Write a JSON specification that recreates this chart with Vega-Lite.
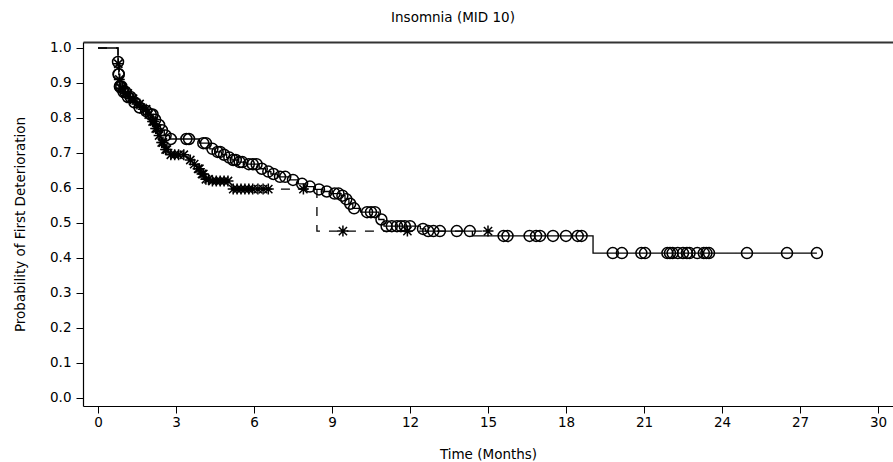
{
  "$schema": "https://vega.github.io/schema/vega-lite/v6.json",
  "width": 810,
  "height": 364,
  "autosize": {"type": "none"},
  "padding": {"left": 83, "top": 42, "right": 0, "bottom": 56},
  "background": "white",
  "config": {
    "view": {"stroke": null},
    "font": "DejaVu Sans",
    "axis": {"grid": false, "domainColor": "#000", "tickColor": "#000", "labelColor": "#000", "titleColor": "#000", "labelFont": "DejaVu Sans", "titleFont": "DejaVu Sans", "labelFontSize": 13.5, "titleFontSize": 13.5, "titleFontWeight": "normal", "tickSize": 7, "domainWidth": 1.2, "tickWidth": 1}
  },
  "title": {"text": "Insomnia (MID 10)", "fontSize": 13.5, "fontWeight": "normal", "font": "DejaVu Sans", "color": "#000", "anchor": "middle", "dx": -35, "offset": 16},
  "datasets": {
    "curves": [
      {"group": "A", "t": 0, "s": 1.0},
      {"group": "A", "t": 0.77, "s": 0.96},
      {"group": "A", "t": 0.8, "s": 0.925},
      {"group": "A", "t": 0.84, "s": 0.89},
      {"group": "A", "t": 0.95, "s": 0.875},
      {"group": "A", "t": 1.1, "s": 0.86},
      {"group": "A", "t": 1.3, "s": 0.845},
      {"group": "A", "t": 1.5, "s": 0.83},
      {"group": "A", "t": 1.75, "s": 0.82},
      {"group": "A", "t": 2.0, "s": 0.81},
      {"group": "A", "t": 2.12, "s": 0.795},
      {"group": "A", "t": 2.25, "s": 0.78},
      {"group": "A", "t": 2.4, "s": 0.765},
      {"group": "A", "t": 2.55, "s": 0.75},
      {"group": "A", "t": 2.75, "s": 0.74},
      {"group": "A", "t": 3.9, "s": 0.728},
      {"group": "A", "t": 4.3, "s": 0.712},
      {"group": "A", "t": 4.5, "s": 0.703},
      {"group": "A", "t": 4.75, "s": 0.695},
      {"group": "A", "t": 4.95, "s": 0.687},
      {"group": "A", "t": 5.15, "s": 0.68},
      {"group": "A", "t": 5.4, "s": 0.674},
      {"group": "A", "t": 5.7, "s": 0.668},
      {"group": "A", "t": 6.2, "s": 0.655},
      {"group": "A", "t": 6.45, "s": 0.647},
      {"group": "A", "t": 6.65, "s": 0.64},
      {"group": "A", "t": 6.9, "s": 0.632},
      {"group": "A", "t": 7.4, "s": 0.623},
      {"group": "A", "t": 7.7, "s": 0.612},
      {"group": "A", "t": 8.0, "s": 0.604},
      {"group": "A", "t": 8.35, "s": 0.596},
      {"group": "A", "t": 8.65, "s": 0.59},
      {"group": "A", "t": 8.95, "s": 0.584},
      {"group": "A", "t": 9.35, "s": 0.578},
      {"group": "A", "t": 9.5, "s": 0.568},
      {"group": "A", "t": 9.65, "s": 0.555},
      {"group": "A", "t": 9.8, "s": 0.542},
      {"group": "A", "t": 10.1, "s": 0.531},
      {"group": "A", "t": 10.8, "s": 0.51},
      {"group": "A", "t": 11.0, "s": 0.491},
      {"group": "A", "t": 12.4, "s": 0.483},
      {"group": "A", "t": 12.6, "s": 0.477},
      {"group": "A", "t": 14.4, "s": 0.463},
      {"group": "A", "t": 19.04, "s": 0.414},
      {"group": "A", "t": 27.65, "s": 0.414},
      {"group": "B", "t": 0, "s": 1.0},
      {"group": "B", "t": 0.77, "s": 0.955},
      {"group": "B", "t": 0.82, "s": 0.91},
      {"group": "B", "t": 0.88, "s": 0.885},
      {"group": "B", "t": 1.0, "s": 0.87},
      {"group": "B", "t": 1.2, "s": 0.855},
      {"group": "B", "t": 1.45, "s": 0.84},
      {"group": "B", "t": 1.7, "s": 0.825},
      {"group": "B", "t": 1.9, "s": 0.81},
      {"group": "B", "t": 2.05, "s": 0.79},
      {"group": "B", "t": 2.18, "s": 0.77},
      {"group": "B", "t": 2.3, "s": 0.75},
      {"group": "B", "t": 2.42, "s": 0.73},
      {"group": "B", "t": 2.55, "s": 0.71},
      {"group": "B", "t": 2.7, "s": 0.695},
      {"group": "B", "t": 3.5, "s": 0.68},
      {"group": "B", "t": 3.65, "s": 0.668},
      {"group": "B", "t": 3.8, "s": 0.655},
      {"group": "B", "t": 3.95, "s": 0.64},
      {"group": "B", "t": 4.1, "s": 0.625},
      {"group": "B", "t": 4.3, "s": 0.62},
      {"group": "B", "t": 5.15, "s": 0.597},
      {"group": "B", "t": 8.42, "s": 0.477},
      {"group": "B", "t": 15.0, "s": 0.477}
    ],
    "censor": [
      {"group": "A", "t": 0.77, "s": 0.96},
      {"group": "A", "t": 0.79, "s": 0.925},
      {"group": "A", "t": 0.8, "s": 0.925},
      {"group": "A", "t": 0.84, "s": 0.89},
      {"group": "A", "t": 0.86, "s": 0.89},
      {"group": "A", "t": 0.9, "s": 0.89},
      {"group": "A", "t": 0.98, "s": 0.875},
      {"group": "A", "t": 1.05, "s": 0.875},
      {"group": "A", "t": 1.15, "s": 0.86},
      {"group": "A", "t": 1.25, "s": 0.86},
      {"group": "A", "t": 1.4, "s": 0.845},
      {"group": "A", "t": 1.6, "s": 0.83},
      {"group": "A", "t": 1.85, "s": 0.82},
      {"group": "A", "t": 2.03, "s": 0.81},
      {"group": "A", "t": 2.1, "s": 0.81},
      {"group": "A", "t": 2.2, "s": 0.795},
      {"group": "A", "t": 2.35, "s": 0.78},
      {"group": "A", "t": 2.46, "s": 0.765},
      {"group": "A", "t": 2.6, "s": 0.75},
      {"group": "A", "t": 2.8, "s": 0.74},
      {"group": "A", "t": 3.4, "s": 0.74},
      {"group": "A", "t": 3.5, "s": 0.74},
      {"group": "A", "t": 4.05, "s": 0.728},
      {"group": "A", "t": 4.15, "s": 0.728},
      {"group": "A", "t": 4.4, "s": 0.712},
      {"group": "A", "t": 4.6, "s": 0.703},
      {"group": "A", "t": 4.7, "s": 0.703},
      {"group": "A", "t": 4.85, "s": 0.695},
      {"group": "A", "t": 5.05, "s": 0.687},
      {"group": "A", "t": 5.2, "s": 0.68},
      {"group": "A", "t": 5.3, "s": 0.68},
      {"group": "A", "t": 5.45, "s": 0.674},
      {"group": "A", "t": 5.55, "s": 0.674},
      {"group": "A", "t": 5.8, "s": 0.668},
      {"group": "A", "t": 5.95, "s": 0.668},
      {"group": "A", "t": 6.1, "s": 0.668},
      {"group": "A", "t": 6.3, "s": 0.655},
      {"group": "A", "t": 6.55, "s": 0.647},
      {"group": "A", "t": 6.75, "s": 0.64},
      {"group": "A", "t": 7.0, "s": 0.632},
      {"group": "A", "t": 7.2, "s": 0.632},
      {"group": "A", "t": 7.5, "s": 0.623},
      {"group": "A", "t": 7.85, "s": 0.612},
      {"group": "A", "t": 8.15, "s": 0.604},
      {"group": "A", "t": 8.5, "s": 0.596},
      {"group": "A", "t": 8.8, "s": 0.59},
      {"group": "A", "t": 9.1, "s": 0.584},
      {"group": "A", "t": 9.25, "s": 0.584},
      {"group": "A", "t": 9.4, "s": 0.578},
      {"group": "A", "t": 9.55, "s": 0.568},
      {"group": "A", "t": 9.7, "s": 0.555},
      {"group": "A", "t": 9.85, "s": 0.542},
      {"group": "A", "t": 10.35, "s": 0.531},
      {"group": "A", "t": 10.5, "s": 0.531},
      {"group": "A", "t": 10.65, "s": 0.531},
      {"group": "A", "t": 10.9, "s": 0.51},
      {"group": "A", "t": 11.1, "s": 0.491},
      {"group": "A", "t": 11.3, "s": 0.491},
      {"group": "A", "t": 11.5, "s": 0.491},
      {"group": "A", "t": 11.65, "s": 0.491},
      {"group": "A", "t": 11.8, "s": 0.491},
      {"group": "A", "t": 12.0, "s": 0.491},
      {"group": "A", "t": 12.5, "s": 0.483},
      {"group": "A", "t": 12.7, "s": 0.477},
      {"group": "A", "t": 12.9, "s": 0.477},
      {"group": "A", "t": 13.15, "s": 0.477},
      {"group": "A", "t": 13.8, "s": 0.477},
      {"group": "A", "t": 14.3, "s": 0.477},
      {"group": "A", "t": 15.6, "s": 0.463},
      {"group": "A", "t": 15.75, "s": 0.463},
      {"group": "A", "t": 16.6, "s": 0.463},
      {"group": "A", "t": 16.85, "s": 0.463},
      {"group": "A", "t": 17.0, "s": 0.463},
      {"group": "A", "t": 17.5, "s": 0.463},
      {"group": "A", "t": 18.0, "s": 0.463},
      {"group": "A", "t": 18.45, "s": 0.463},
      {"group": "A", "t": 18.6, "s": 0.463},
      {"group": "A", "t": 19.8, "s": 0.414},
      {"group": "A", "t": 20.15, "s": 0.414},
      {"group": "A", "t": 20.9, "s": 0.414},
      {"group": "A", "t": 21.04, "s": 0.414},
      {"group": "A", "t": 21.9, "s": 0.414},
      {"group": "A", "t": 22.0, "s": 0.414},
      {"group": "A", "t": 22.1, "s": 0.414},
      {"group": "A", "t": 22.3, "s": 0.414},
      {"group": "A", "t": 22.5, "s": 0.414},
      {"group": "A", "t": 22.65, "s": 0.414},
      {"group": "A", "t": 22.75, "s": 0.414},
      {"group": "A", "t": 23.05, "s": 0.414},
      {"group": "A", "t": 23.3, "s": 0.414},
      {"group": "A", "t": 23.4, "s": 0.414},
      {"group": "A", "t": 23.5, "s": 0.414},
      {"group": "A", "t": 24.96, "s": 0.414},
      {"group": "A", "t": 26.5, "s": 0.414},
      {"group": "A", "t": 27.65, "s": 0.414},
      {"group": "B", "t": 0.78, "s": 0.955},
      {"group": "B", "t": 0.82, "s": 0.91},
      {"group": "B", "t": 0.88, "s": 0.885},
      {"group": "B", "t": 0.95, "s": 0.885},
      {"group": "B", "t": 1.05, "s": 0.87},
      {"group": "B", "t": 1.15, "s": 0.87},
      {"group": "B", "t": 1.25, "s": 0.855},
      {"group": "B", "t": 1.35, "s": 0.855},
      {"group": "B", "t": 1.5, "s": 0.84},
      {"group": "B", "t": 1.6, "s": 0.84},
      {"group": "B", "t": 1.75, "s": 0.825},
      {"group": "B", "t": 1.85, "s": 0.825},
      {"group": "B", "t": 1.95, "s": 0.81},
      {"group": "B", "t": 2.1, "s": 0.79},
      {"group": "B", "t": 2.15, "s": 0.79},
      {"group": "B", "t": 2.22, "s": 0.77},
      {"group": "B", "t": 2.28, "s": 0.77},
      {"group": "B", "t": 2.35, "s": 0.75},
      {"group": "B", "t": 2.45, "s": 0.73},
      {"group": "B", "t": 2.5, "s": 0.73},
      {"group": "B", "t": 2.6, "s": 0.71},
      {"group": "B", "t": 2.65, "s": 0.71},
      {"group": "B", "t": 2.8, "s": 0.695},
      {"group": "B", "t": 2.95, "s": 0.695},
      {"group": "B", "t": 3.1, "s": 0.695},
      {"group": "B", "t": 3.3, "s": 0.695},
      {"group": "B", "t": 3.55, "s": 0.68},
      {"group": "B", "t": 3.7, "s": 0.668},
      {"group": "B", "t": 3.85, "s": 0.655},
      {"group": "B", "t": 3.9, "s": 0.655},
      {"group": "B", "t": 4.0, "s": 0.64},
      {"group": "B", "t": 4.05, "s": 0.64},
      {"group": "B", "t": 4.15, "s": 0.625},
      {"group": "B", "t": 4.25, "s": 0.625},
      {"group": "B", "t": 4.4, "s": 0.62},
      {"group": "B", "t": 4.55, "s": 0.62},
      {"group": "B", "t": 4.7, "s": 0.62},
      {"group": "B", "t": 4.85, "s": 0.62},
      {"group": "B", "t": 5.0, "s": 0.62},
      {"group": "B", "t": 5.2, "s": 0.597},
      {"group": "B", "t": 5.35, "s": 0.597},
      {"group": "B", "t": 5.5, "s": 0.597},
      {"group": "B", "t": 5.65, "s": 0.597},
      {"group": "B", "t": 5.8, "s": 0.597},
      {"group": "B", "t": 5.95, "s": 0.597},
      {"group": "B", "t": 6.15, "s": 0.597},
      {"group": "B", "t": 6.35, "s": 0.597},
      {"group": "B", "t": 6.55, "s": 0.597},
      {"group": "B", "t": 7.9, "s": 0.597},
      {"group": "B", "t": 9.42, "s": 0.477},
      {"group": "B", "t": 11.9, "s": 0.477},
      {"group": "B", "t": 15.0, "s": 0.477}
    ]
  },
  "resolve": {"scale": {"x": "independent"}},
  "layer": [
    {
      "data": {"name": "curves"},
      "mark": {"type": "line", "interpolate": "step-after", "color": "#000", "strokeWidth": 1.3},
      "encoding": {
        "x": {"field": "t", "type": "quantitative", "scale": {"domain": [-0.5769, 30.5769], "nice": false, "zero": false},
          "axis": {"values": [0, 3, 6, 9, 12, 15, 18, 21, 24, 27, 30], "title": "Time (Months)", "labelPadding": 2, "titlePadding": 19, "format": "d"}},
        "y": {"field": "s", "type": "quantitative", "scale": {"domain": [-0.02286, 1.01714], "nice": false, "zero": false},
          "axis": {"values": [0, 0.1, 0.2, 0.3, 0.4, 0.5, 0.6, 0.7, 0.8, 0.9, 1.0], "format": ".1f", "title": "Probability of First Deterioration", "labelPadding": 5, "titlePadding": 22}},
        "detail": {"field": "group"},
        "strokeDash": {"field": "group", "type": "nominal", "scale": {"domain": ["A", "B"], "range": [[1, 0], [9, 9]]}, "legend": null}
      }
    },
    {
      "data": {"name": "censor"},
      "mark": {"type": "point", "filled": false, "color": "#000", "strokeWidth": 1.5, "size": 120, "opacity": 1},
      "encoding": {
        "x": {"field": "t", "type": "quantitative", "scale": {"domain": [-0.5769, 30.5769], "nice": false, "zero": false},
          "axis": {"orient": "top", "labels": false, "ticks": false, "title": null, "domainColor": "#333", "domainWidth": 1.8}},
        "y": {"field": "s", "type": "quantitative", "scale": {"domain": [-0.02286, 1.01714], "nice": false, "zero": false},
          "axis": {"values": [0, 0.1, 0.2, 0.3, 0.4, 0.5, 0.6, 0.7, 0.8, 0.9, 1.0], "format": ".1f", "title": "Probability of First Deterioration", "labelPadding": 5, "titlePadding": 22}},
        "shape": {"field": "group", "type": "nominal", "scale": {"domain": ["A", "B"], "range": ["circle", "M-1,0L1,0M0,-1L0,1M-0.75,-0.75L0.75,0.75M-0.75,0.75L0.75,-0.75"]}, "legend": null}
      }
    }
  ]
}
